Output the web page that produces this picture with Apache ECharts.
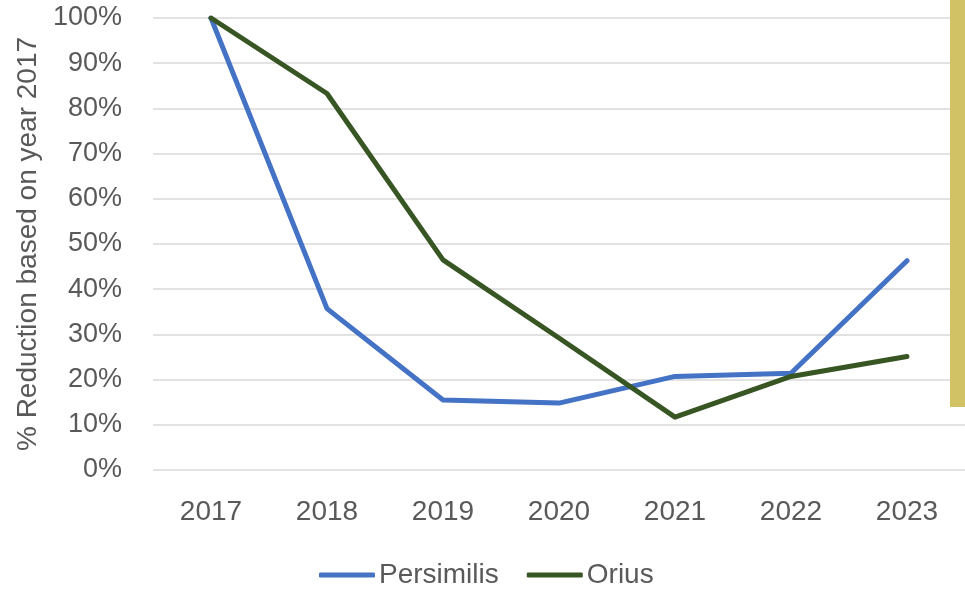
<!DOCTYPE html>
<html>
<head>
<meta charset="utf-8">
<script src="https://cdn.jsdelivr.net/npm/echarts@6/dist/echarts.min.js"></script>
<style>
  html, body { margin: 0; padding: 0; background: #fff; }
  #chart { width: 965px; height: 589px; }
</style>
</head>
<body>
<div id="chart"></div>
<script>
// Years on the horizontal axis
const years = ['2017', '2018', '2019', '2020', '2021', '2022', '2023'];
// Remaining population, percent of the 2017 level
const persimilis = [100, 35.7, 15.5, 14.8, 20.7, 21.4, 46.3];
const orius = [100, 83.3, 46.5, 29.2, 11.7, 20.7, 25.1];

const FONT = 'Liberation Sans';
const TEXT = '#595959';

const chart = echarts.init(document.getElementById('chart'));
chart.setOption({
  animation: false,
  textStyle: { fontFamily: FONT },
  grid: { left: 153, right: -2, top: 18, bottom: 119, containLabel: false },
  xAxis: {
    type: 'category',
    data: years,
    boundaryGap: true,
    axisLine: { show: false },
    axisTick: { show: false },
    axisLabel: { color: TEXT, fontSize: 28, fontFamily: FONT, margin: 28 }
  },
  yAxis: {
    type: 'value',
    min: 0,
    max: 100,
    interval: 10,
    name: '% Reduction based on year 2017',
    nameLocation: 'middle',
    nameGap: 110,
    nameTextStyle: { color: TEXT, fontSize: 28, fontFamily: FONT },
    axisLine: { show: false },
    axisTick: { show: false },
    axisLabel: { color: TEXT, fontSize: 27, fontFamily: FONT, margin: 31, formatter: '{value}%' },
    splitLine: { lineStyle: { color: '#D9D9D9', width: 1.5 } }
  },
  legend: {
    top: 556,
    left: 314,
    itemWidth: 56,
    itemHeight: 5,
    itemGap: 28,
    icon: 'roundRect',
    textStyle: { color: TEXT, fontSize: 28, fontFamily: FONT, padding: [0, 0, 0, -1] },
    data: ['Persimilis', 'Orius']
  },
  series: [
    {
      name: 'Persimilis', type: 'line', data: persimilis,
      showSymbol: false, symbol: 'none',
      lineStyle: { color: '#4472C4', width: 5, cap: 'round', join: 'round' },
      itemStyle: { color: '#4472C4' }
    },
    {
      name: 'Orius', type: 'line', data: orius,
      showSymbol: false, symbol: 'none',
      lineStyle: { color: '#375623', width: 5, cap: 'round', join: 'round' },
      itemStyle: { color: '#375623' }
    }
  ],
  graphic: [
    {
      type: 'rect',
      right: 0, top: 0,
      shape: { width: 15, height: 407 },
      style: { fill: '#D1C266' },
      z: 100
    }
  ]
});
</script>
</body>
</html>
